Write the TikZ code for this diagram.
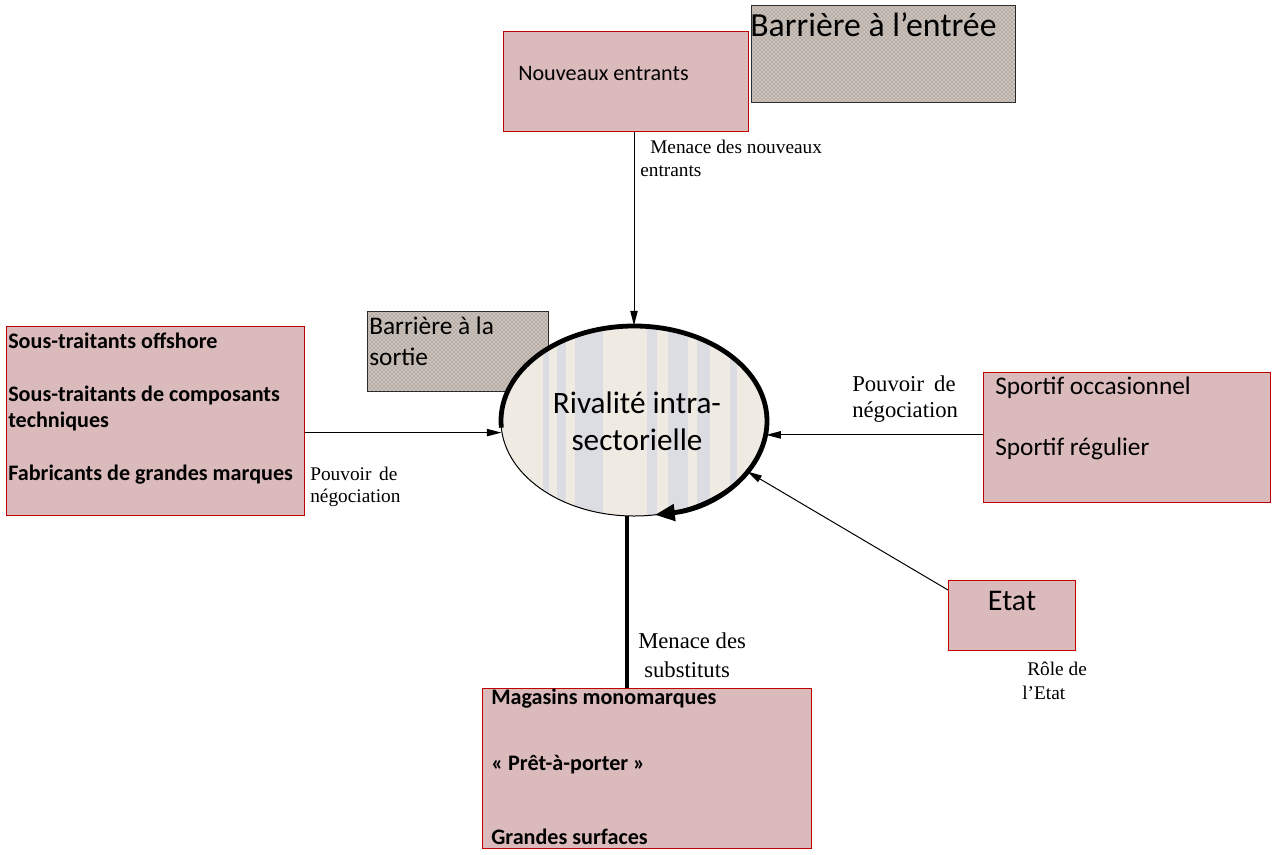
\documentclass[tikz,border=0pt]{standalone}
\usepackage{fontspec}
\setmainfont{Liberation Serif}
\newfontfamily\calfont{Carlito}
\usetikzlibrary{shapes.geometric,patterns,arrows.meta,calc}
\definecolor{boxfill}{HTML}{DBBABC}
\definecolor{boxline}{HTML}{C00000}
\definecolor{barfill}{HTML}{CDC3BB}
\definecolor{elfill}{HTML}{EFEBE3}
\definecolor{stripe}{HTML}{DCDCE3}
\newcommand\pxu{0.75pt}
\begin{document}
\begin{tikzpicture}[x=0.75pt,y=-0.75pt,
  fbox/.style={draw=boxline, line width=1.1pt, fill=boxfill, inner sep=0, anchor=north west},
  barrier/.style={draw=black!85, line width=0.8pt, fill=barfill, inner sep=0, anchor=north west,
     postaction={pattern=crosshatch dots, pattern color=black!60}},
  ctext/.style={font=\calfont\fontsize{16.6}{20}\selectfont, inner sep=0, anchor=west},
  btext/.style={font=\calfont\bfseries\fontsize{16.6}{20}\selectfont, inner sep=0, anchor=west},
  big/.style={font=\calfont\fontsize{19}{23}\selectfont, inner sep=0, anchor=west},
  lab/.style={font=\fontsize{14.5}{17}\selectfont, inner sep=0, anchor=west},
  labbig/.style={font=\fontsize{17}{20}\selectfont, inner sep=0, anchor=west},
  arr/.style={line width=0.75pt, -{Triangle[length=11pt,width=5.5pt]}}]
\useasboundingbox (0,0) rectangle (1275,854);

% boxes
\node[fbox, minimum width=245*\pxu, minimum height=100*\pxu] (nouv) at (503,31) {};
\node[barrier, minimum width=264*\pxu, minimum height=97*\pxu] (bent) at (751,5) {};
\node[barrier, minimum width=181*\pxu, minimum height=80*\pxu] (bsor) at (367,311) {};
\node[fbox, minimum width=298*\pxu, minimum height=189*\pxu] (lbox) at (6,326) {};
\node[fbox, minimum width=287*\pxu, minimum height=130*\pxu] (rbox) at (983,372) {};
\node[fbox, minimum width=127*\pxu, minimum height=70*\pxu] (etat) at (948,580) {};
\node[fbox, minimum width=329*\pxu, minimum height=160*\pxu] (bbox) at (482,688) {};

% ellipse
\begin{scope}
  \clip (634,421) ellipse [x radius=133, y radius=95];
  \fill[elfill] (500,320) rectangle (770,520);
  \foreach \a/\b in {543/549, 557/566, 575/603, 647/657, 668/688, 697/710, 730/737}
    \fill[stripe] (\a,320) rectangle (\b,520);
\end{scope}
\node[ellipse, draw, line width=0.75pt, minimum width=266*\pxu, minimum height=190*\pxu, inner sep=0] (riv) at (634,421) {};
\draw[line width=3.6pt, -{Triangle[length=15pt,width=12pt]}]
  ($(riv.center)+(176:133 and 95)$) arc[start angle=176, end angle=441, x radius=133, y radius=95];

% texts
\node[ctext] (tnouv) at (518,73) {Nouveaux entrants};
\node[font=\calfont\fontsize{25.3}{30}\selectfont, inner sep=0, anchor=west] (tbent) at (750,25) {Barrière à l’entrée};
\node[big] (tbs1) at (369,326) {Barrière à la};
\node[big] (tbs2) at (369,357) {sortie};
\node[btext] (tl1) at (8,341) {Sous-traitants offshore};
\node[btext] (tl2) at (8,395) {Sous-traitants de composants};
\node[btext] (tl3) at (8,421) {techniques};
\node[btext] (tl4) at (8,475) {Fabricants de grandes marques};
\node[big] (tr1) at (995,388) {Sportif occasionnel};
\node[big] (tr2) at (995,449) {Sportif régulier};
\node[font=\calfont\fontsize{22.5}{27}\selectfont, inner sep=0] (tetat) at (1012,601) {Etat};
\node[btext] (tb1) at (491,699) {Magasins monomarques};
\node[btext] (tb2) at (491,765) {« Prêt-à-porter »};
\node[btext] (tb3) at (491,837) {Grandes surfaces};
\node[font=\calfont\fontsize{23.4}{28}\selectfont, inner sep=0] (triv1) at (637,403) {Rivalité intra-};
\node[font=\calfont\fontsize{23.4}{28}\selectfont, inner sep=0] (triv2) at (637,440) {sectorielle};

% labels
\node[lab] (m1) at (650,147) {Menace des nouveaux};
\node[lab] (m2) at (640,171) {entrants};
\node[labbig] (pr1) at (852,384) {Pouvoir\hspace{0.45em}de};
\node[labbig] (pr2) at (852,412) {négociation};
\node[lab] (pl1) at (310,474) {Pouvoir\hspace{0.4em}de};
\node[lab] (pl2) at (310,498) {négociation};
\node[labbig] (s1) at (638,641) {Menace des};
\node[labbig] (s2) at (644,670) {substituts};
\node[lab] (e1) at (1027,669) {Rôle de};
\node[lab] (e2) at (1022,693) {l’Etat};

% connectors
\draw[arr] (riv.north |- nouv.south) -- (riv.north);
\draw[arr] (riv.185 -| lbox.east) -- (riv.185);
\draw[arr] (riv.-6 -| rbox.west) -- (riv.-6);
\coordinate (etatin) at ($(etat.north west)+(0,10)$);
\draw[arr] (etatin) -- (riv.-24);
\draw[line width=3pt] (riv.266) -- (riv.266 |- bbox.north);
\end{tikzpicture}
\end{document}
